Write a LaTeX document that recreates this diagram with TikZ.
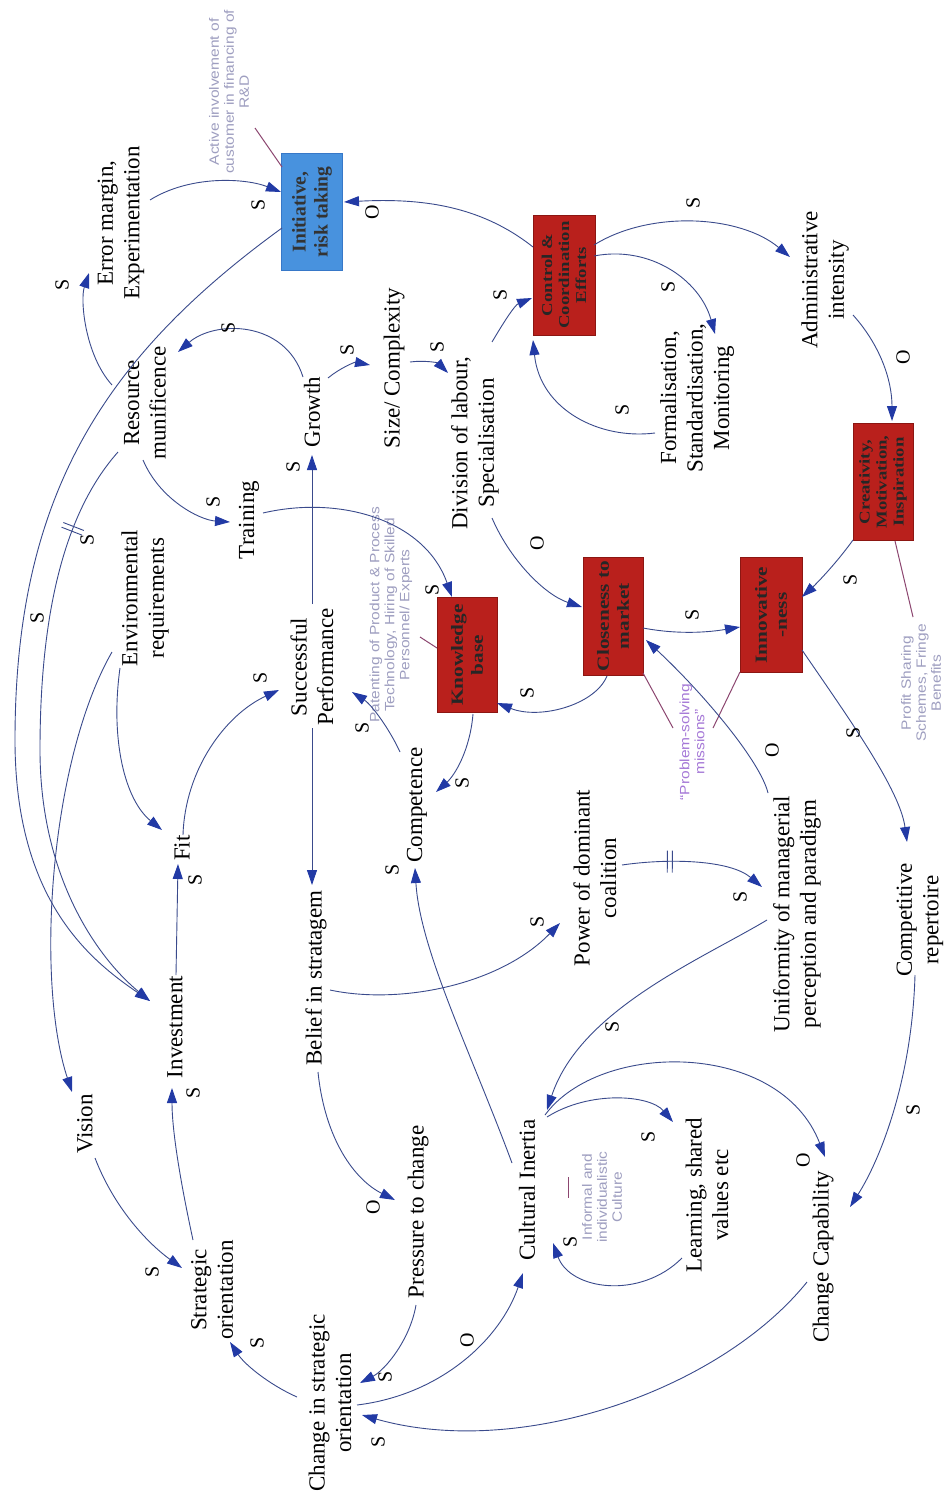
\documentclass[tikz,border=0pt]{standalone}
\usepackage{fontspec}
\setmainfont{Liberation Serif}
\newfontfamily\notefont{Liberation Sans}
\usetikzlibrary{arrows.meta,calc,decorations.markings}

\definecolor{linkblue}{RGB}{58,74,140}
\definecolor{tipblue}{RGB}{34,58,165}
\definecolor{boxred}{RGB}{185,32,28}
\definecolor{boxredline}{RGB}{140,22,18}
\definecolor{boxblue}{RGB}{72,146,222}
\definecolor{boxblueline}{RGB}{55,120,200}
\definecolor{notegray}{RGB}{158,158,192}
\definecolor{noteviolet}{RGB}{165,120,215}
\definecolor{notelink}{RGB}{140,70,112}

\begin{document}
\begin{tikzpicture}[x=1pt,y=-1pt,
  lbl/.style={rotate=90, align=center, inner sep=0pt,
    font=\fontsize{23}{26.5}\selectfont},
  pol/.style={rotate=90, inner sep=0pt, font=\fontsize{20}{22}\selectfont},
  redbox/.style={rotate=90, xscale=1.25, draw=boxredline, fill=boxred, line width=1pt,
    align=center, inner sep=1pt, text=black!85},
  threeline/.style={font=\bfseries\fontsize{15}{17}\selectfont},
  twoline/.style={font=\bfseries\fontsize{17}{20}\selectfont},
  bluebox/.style={rotate=90, draw=boxblueline, fill=boxblue, line width=1pt,
    align=center, inner sep=1pt, text=black!80,
    font=\bfseries\fontsize{19.5}{22}\selectfont},
  note/.style={rotate=90, xscale=1.15, align=center, inner sep=0pt, text=notegray,
    font=\notefont\fontsize{13.5}{15}\selectfont},
  link/.style={draw=linkblue, line width=0.9pt,
    -{Triangle[length=15pt,width=10pt,color=tipblue]}},
  notelinkstyle/.style={draw=notelink, line width=1pt},
  delaymark/.style={postaction={decorate}, decoration={markings,
    mark=at position #1 with {\draw[linkblue, line width=0.9pt, -]
      (-2.5,-11)--(-2.5,11) (2.5,-11)--(2.5,11);}}}
]
\fill[white] (0,0) rectangle (947,1498);
\useasboundingbox (0,0) rectangle (947,1498);

% ---------- variables ----------
\node[lbl] (err)     at (121,223)  {Error margin,\\Experimentation};
\node[lbl] (res)     at (145,403)  {Resource\\munificence};
\node[lbl] (env)     at (145,598)  {Environmental\\requirements};
\node[lbl] (train)   at (249,520)  {Training};
\node[lbl] (growth)  at (312,412)  {Growth};
\node[lbl] (size)    at (394,368)  {Size/ Complexity};
\node[lbl] (div)     at (475,443)  {Division of labour,\\Specialisation};
\node[lbl] (succ)    at (312,667)  {Successful\\Performance};
\node[lbl] (fit)     at (182,848)  {Fit};
\node[lbl] (inv)     at (175,1027) {Investment};
\node[lbl] (vision)  at (85,1124)  {Vision};
\node[lbl] (strat)   at (212,1290) {Strategic\\orientation};
\node[lbl] (belief)  at (316,978)  {Belief in stratagem};
\node[lbl] (comp)    at (417,805)  {Competence};
\node[lbl] (power)   at (595,878)  {Power of dominant\\coalition};
\node[lbl] (unif)    at (797,914)  {Uniformity of managerial\\perception and paradigm};
\node[lbl] (compet)  at (920,920)  {Competitive\\repertoire};
\node[lbl] (press)   at (418,1212) {Pressure to change};
\node[lbl] (cult)    at (527,1190) {Cultural Inertia};
\node[lbl] (learn)   at (707,1195) {Learning, shared\\values etc};
\node[lbl] (chcap)   at (823,1257) {Change Capability};
\node[lbl] (chstrat) at (330,1403) {Change in strategic\\orientation};
\node[lbl] (form)    at (697,398)  {Formalisation,\\Standardisation,\\Monitoring};
\node[lbl] (admin)   at (825,280)  {Administrative\\intensity};

% ---------- highlighted variables (widths are before the 1.25 stretch) ----------
\node[bluebox, minimum width=117pt, minimum height=61pt] (init) at (312,212) {Initiative,\\risk taking};
\node[redbox, threeline, minimum width=96pt, minimum height=62pt] (ctrl)  at (564,275) {Control \&\\Coordination\\Efforts};
\node[redbox, twoline,   minimum width=92pt, minimum height=60pt] (know)  at (467,655) {Knowledge\\base};
\node[redbox, twoline,   minimum width=94.4pt, minimum height=60pt] (close) at (613,616) {Closeness to\\market};
\node[redbox, twoline,   minimum width=92pt, minimum height=62pt] (innov) at (771,615) {Innovative\\-ness};
\node[redbox, threeline, minimum width=93.6pt, minimum height=60pt] (creat) at (883,482) {Creativity,\\Motivation,\\Inspiration};

% ---------- notes ----------
\node[note] (ann1) at (229,92)   {Active involvement of\\customer in financing of\\R\&D};
\node[note] (ann2) at (391,615)  {Patenting of Product \& Process\\Technology, Hiring of Skilled\\Personnel/ Experts};
\node[note] (ann3) at (921,683)  {Profit Sharing\\Schemes, Fringe\\Benefits};
\node[note, text=noteviolet] (ann4) at (692,742) {“Problem-solving\\missions”};
\node[note] (ann5) at (602,1197) {Informal and\\individualistic\\Culture};

\draw[notelinkstyle] ($(ann1)+(26,36)$) -- ($(init)+(-30,-45)$);
\draw[notelinkstyle] ($(ann2)+(29,22)$) -- ($(know)+(-30,-7)$);
\draw[notelinkstyle] ($(ann3)+(-8,-66)$) -- ($(creat)+(12,59)$);
\draw[notelinkstyle] ($(ann4)+(-19,-14)$) -- ($(close)+(30,57)$);
\draw[notelinkstyle] ($(ann4)+(21,-14)$) -- ($(innov)+(-31,57)$);
\draw[notelinkstyle] ($(cult)+(41,-13)$) -- ($(cult)+(41,8)$);

% ---------- causal links ----------
\draw[link] ($(res)+(-33,-18)$) .. controls (85,355) and (80,300) .. ($(err)+(-32,50)$);
\draw[link] ($(err)+(29,-23)$) .. controls (190,175) and (245,178) .. ($(init)+(-31,-20)$);
\draw[link] ($(init)+(-30,16)$) .. controls (100,360) and (15,500) .. (15,740)
            .. controls (15,900) and (90,960) .. ($(inv)+(-25,-26)$);
\draw[link, delaymark=0.15] ($(res)+(-27,49)$) .. controls (62,515) and (40,620) .. (40,750)
            .. controls (40,880) and (100,960) .. ($(inv)+(-25,-26)$);
\draw[link] ($(env)+(-33,54)$) .. controls (50,760) and (35,980) .. ($(vision)+(-13,-32)$);
\draw[link] ($(env)+(-25,70)$) .. controls (110,740) and (125,800) .. ($(fit)+(-20,-18)$);
\draw[link] ($(fit)+(1,-13)$) .. controls (185,770) and (225,715) .. ($(succ)+(-33,23)$);
\draw[link] ($(inv)+(1,-52)$) -- ($(fit)+(-4,16)$);
\draw[link] ($(strat)+(-19,-50)$) .. controls (180,1180) and (172,1130) .. ($(inv)+(-3,61)$);
\draw[link] ($(vision)+(10,34)$) .. controls (115,1210) and (150,1245) .. ($(strat)+(-30,-22)$);
\draw[link] ($(chstrat)+(-33,-6)$) .. controls (270,1385) and (245,1365) .. ($(strat)+(18,52)$);
\draw[link] ($(press)+(-2,93)$) .. controls (410,1340) and (385,1370) .. ($(chstrat)+(30,-20)$);
\draw[link] ($(chstrat)+(27,2)$) .. controls (440,1395) and (500,1340) .. ($(cult)+(-4,83)$);
\draw[link] ($(chcap)+(-16,25)$) .. controls (720,1390) and (520,1460) .. ($(chstrat)+(32,12)$);
\draw[link] ($(belief)+(2,94)$) .. controls (325,1140) and (355,1180) .. ($(press)+(-23,-12)$);
\draw[link] ($(succ)+(0,-63)$) -- ($(growth)+(0,43)$);
\draw[link] ($(succ)+(0,61)$) -- ($(belief)+(-4,-93)$);
\draw[link] ($(growth)+(-9,-35)$) .. controls (285,320) and (215,320) .. ($(res)+(33,-51)$);
\draw[link] ($(growth)+(16,-34)$) .. controls (340,368) and (355,362) .. ($(size)+(-24,-3)$);
\draw[link] ($(size)+(16,-6)$) .. controls (425,360) and (438,363) .. ($(div)+(-27,-70)$);
\draw[link] ($(div)+(17,-101)$) .. controls (505,320) and (515,305) .. ($(ctrl)+(-32,23)$);
\draw[link] ($(ctrl)+(-31,-28)$) .. controls (480,205) and (420,198) .. ($(init)+(32,-10)$);
\draw[link] ($(ctrl)+(30,-30)$) .. controls (650,210) and (740,215) .. ($(admin)+(-35,-23)$);
\draw[link] ($(ctrl)+(30,-19)$) .. controls (650,245) and (700,280) .. ($(form)+(18,-64)$);
\draw[link] ($(form)+(-42,35)$) .. controls (600,440) and (540,410) .. ($(ctrl)+(-31,65)$);
\draw[link] ($(admin)+(28,35)$) .. controls (880,345) and (892,380) .. ($(creat)+(9,-61)$);
\draw[link] ($(creat)+(-30,58)$) .. controls (835,565) and (815,585) .. ($(innov)+(31,-18)$);
\draw[link] ($(close)+(30,12)$) .. controls (680,635) and (710,632) .. ($(innov)+(-31,12)$);
\draw[link] ($(div)+(17,75)$) .. controls (510,560) and (545,595) .. ($(close)+(-31,-9)$);
\draw[link] ($(close)+(-6,60)$) .. controls (595,705) and (540,720) .. ($(know)+(30,48)$);
\draw[link] ($(train)+(14,-7)$) .. controls (340,495) and (425,520) .. ($(know)+(-15,-58)$);
\draw[link] ($(know)+(6,59)$) .. controls (470,750) and (455,775) .. ($(comp)+(19,-13)$);
\draw[link] ($(comp)+(-17,-53)$) .. controls (390,730) and (372,705) .. ($(succ)+(40,25)$);
\draw[link] ($(cult)+(-15,-27)$) .. controls (470,1050) and (420,950) .. ($(comp)+(-2,63)$);
\draw[link] ($(belief)+(14,12)$) .. controls (400,1005) and (500,985) .. ($(power)+(-35,45)$);
\draw[link, delaymark=0.33] ($(power)+(27,-13)$) .. controls (670,858) and (730,860) .. ($(unif)+(-35,-27)$);
\draw[link] ($(unif)+(-29,-121)$) .. controls (760,760) and (700,690) .. ($(close)+(33,24)$);
\draw[link] ($(innov)+(31,35)$) .. controls (850,720) and (900,790) .. ($(compet)+(-13,-78)$);
\draw[link] ($(compet)+(-5,55)$) .. controls (912,1080) and (880,1160) .. ($(chcap)+(27,-50)$);
\draw[link] ($(unif)+(-30,6)$) .. controls (700,960) and (580,1010) .. ($(cult)+(20,-80)$);
\draw[link] ($(cult)+(18,-75)$) .. controls (600,1040) and (780,1040) .. ($(chcap)+(2,-100)$);
\draw[link] ($(cult)+(20,-73)$) .. controls (590,1090) and (650,1095) .. ($(learn)+(-34,-73)$);
\draw[link] ($(learn)+(-25,63)$) .. controls (640,1300) and (570,1290) .. ($(cult)+(26,53)$);
\draw[link] ($(res)+(-2,57)$) .. controls (160,500) and (200,520) .. ($(train)+(-19,2)$);

% ---------- link polarities ----------
\foreach \p/\q in {62/285, 258/205, 37/618, 87/540, 213/502, 228/328, 293/467,
  347/350, 437/347, 500/295, 693/203, 668/287, 622/410, 850/580, 692/615,
  527/693, 432/590, 462/783, 362/728, 392/870, 537/922, 740/897, 853/733,
  913/1110, 612/1027, 648/1137, 570/1242, 260/678, 195/880, 193/1093,
  152/1272, 257/1343, 385/1377, 378/1442}
  \node[pol] at (\p,\q) {S};
\foreach \p/\q in {372/212, 903/357, 537/543, 772/750, 803/1160, 467/1340, 373/1207}
  \node[pol] at (\p,\q) {O};
\end{tikzpicture}
\end{document}
